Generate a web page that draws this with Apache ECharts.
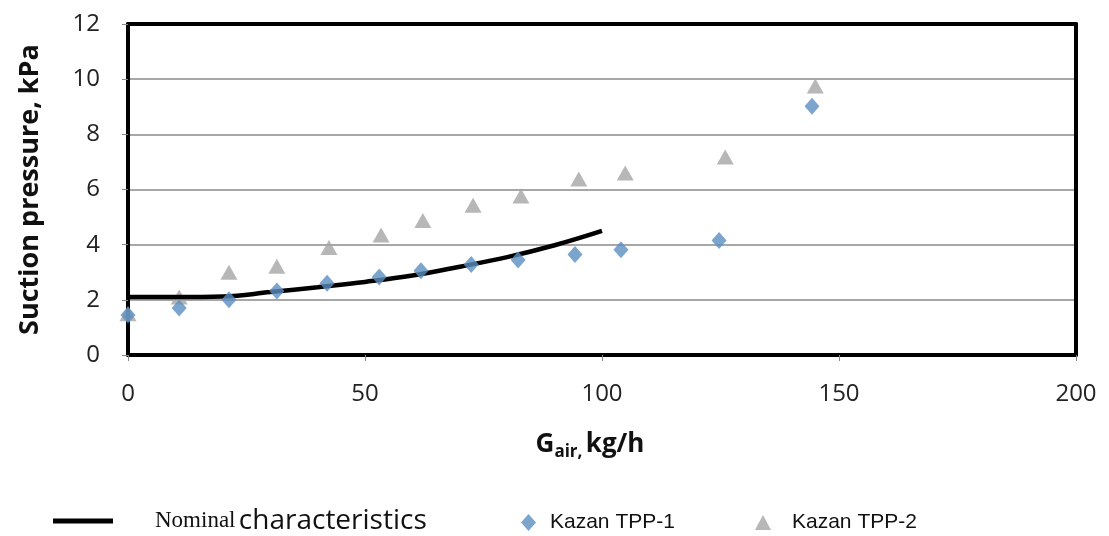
<!DOCTYPE html>
<html><head><meta charset="utf-8">
<script src="https://cdn.jsdelivr.net/npm/echarts@6/dist/echarts.min.js"></script>
<style>html,body{margin:0;padding:0;background:#fff}#c{width:1109px;height:536px}</style>
</head><body><div id="c"></div>
<script>
const nominalX = [0, 10, 20, 30, 40, 50, 60, 70, 80, 90, 100];
const nominalY = [2.1, 2.1, 2.12, 2.28, 2.46, 2.65, 2.88, 3.2, 3.55, 3.98, 4.5];
const tpp1X = [0, 10.8, 21.3, 31.4, 42, 53, 61.8, 72.4, 82.3, 94.3, 104, 124.7, 144.3];
const tpp1Y = [1.45, 1.7, 2.0, 2.32, 2.6, 2.83, 3.05, 3.28, 3.44, 3.64, 3.82, 4.15, 9.02];
const tpp2X = [0, 10.8, 21.3, 31.4, 42.4, 53.4, 62.2, 72.8, 82.9, 95.1, 104.9, 126, 145];
const tpp2Y = [1.5, 2.1, 3.0, 3.22, 3.9, 4.35, 4.88, 5.43, 5.76, 6.38, 6.6, 7.18, 9.75];
const xTicks = [0, 50, 100, 150, 200];
const yTicks = [0, 2, 4, 6, 8, 10, 12];
const names = ['Nominal characteristics', 'Kazan TPP-1', 'Kazan TPP-2'];

const zip = (a, b) => a.map((v, i) => [v, b[i]]);
const tickFont = 'Open Sans';
const xMin = xTicks[0], xMax = xTicks[xTicks.length - 1];
const yMin = yTicks[0], yMax = yTicks[yTicks.length - 1];
const frameAxis = () => ({show: true, onZero: false, lineStyle: {color: '#000', width: 4}});
const chart = echarts.init(document.getElementById('c'), null, {renderer: 'canvas'});
chart.setOption({
  animation: false,
  backgroundColor: '#fff',
  grid: {left: 128, right: 33, top: 24, bottom: 181, show: false},
  xAxis: [{
    type: 'value', min: xMin, max: xMax, interval: 50,
    axisLine: frameAxis(),
    axisTick: {show: true, inside: false, length: 6, lineStyle: {color: '#888'}},
    axisLabel: {margin: 27, fontSize: 24, color: '#222', fontFamily: tickFont},
    splitLine: {show: false},
    name: '{g|G}{s|air,} {g|kg/h}', nameLocation: 'middle', nameGap: 74,
    nameTextStyle: {padding: [0, 24, 0, 0], rich: {
      g: {fontSize: 26, fontWeight: 'bold', color: '#111', fontFamily: 'Open Sans'},
      s: {fontSize: 17, fontWeight: 'bold', color: '#111', fontFamily: 'Open Sans', verticalAlign: 'bottom', padding: [15, 0, 0, 0]}
    }}
  }, {
    type: 'value', position: 'top', min: xMin, max: xMax, interval: 50,
    axisLine: frameAxis(), axisTick: {show: false}, axisLabel: {show: false}, splitLine: {show: false}
  }],
  yAxis: [{
    type: 'value', min: yMin, max: yMax, interval: 2,
    axisLine: frameAxis(),
    axisTick: {show: true, inside: false, length: 6, lineStyle: {color: '#888'}},
    axisLabel: {margin: 28, fontSize: 24, color: '#222', fontFamily: tickFont},
    splitLine: {show: true, lineStyle: {color: '#8a8a8a', width: 1.5}},
    name: 'Suction pressure, kPa', nameLocation: 'middle', nameGap: 84, nameRotate: 90,
    nameTextStyle: {fontSize: 27, fontWeight: 'bold', color: '#111', fontFamily: 'Open Sans'}
  }, {
    type: 'value', position: 'right', min: yMin, max: yMax, interval: 2,
    axisLine: frameAxis(), axisTick: {show: false}, axisLabel: {show: false}, splitLine: {show: false}
  }],
  legend: [
    {data: [names[0]], left: 48, top: 502, itemWidth: 60, itemHeight: 5, itemGap: 0,
     icon: 'rect',
     formatter: () => '{a|Nominal} {b|characteristics}',
     textStyle: {padding: [0, 0, 0, 37], rich: {
       a: {fontFamily: 'Liberation Serif', fontSize: 23, color: '#111'},
       b: {fontFamily: 'Open Sans', fontSize: 28, color: '#111'}
     }}},
    {data: [names[1]], left: 516, top: 507, itemWidth: 15, itemHeight: 17, itemGap: 0,
     textStyle: {padding: [0, 0, 0, 9], fontFamily: 'Liberation Sans', fontSize: 21, color: '#111'}},
    {data: [names[2]], left: 750, top: 507, itemWidth: 16, itemHeight: 15, itemGap: 0,
     textStyle: {padding: [0, 0, 0, 16], fontFamily: 'Liberation Sans', fontSize: 21, color: '#111'}}
  ],
  series: [
    {name: names[0], type: 'line', data: zip(nominalX, nominalY), smooth: 0.4, showSymbol: false, symbol: 'none',
     lineStyle: {color: '#000', width: 4.5}, itemStyle: {color: '#000'}, z: 3},
    {name: names[1], type: 'scatter', data: zip(tpp1X, tpp1Y), symbol: 'diamond', symbolSize: [15, 17],
     itemStyle: {color: '#5b8ec2'}, z: 4},
    {name: names[2], type: 'scatter', data: zip(tpp2X, tpp2Y), symbol: 'triangle', symbolSize: [17, 15],
     itemStyle: {color: '#a5a5a5'}, z: 2}
  ]
});
</script></body></html>
